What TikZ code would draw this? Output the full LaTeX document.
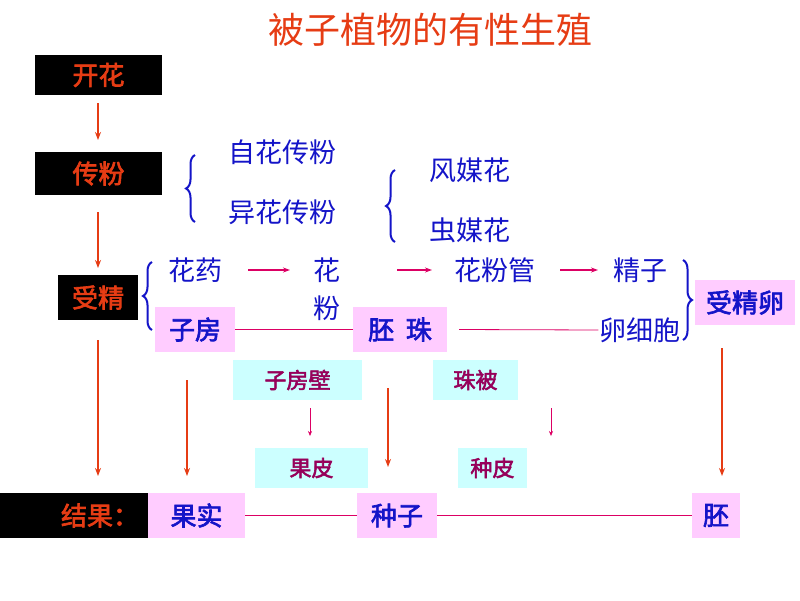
\documentclass[tikz,border=0pt]{standalone}
\usepackage{fontspec}
\setmainfont{Noto Sans CJK SC}
\newfontfamily\cjkb{Noto Sans CJK SC}[FakeBold=2.5]
\usetikzlibrary{decorations.pathreplacing,arrows.meta}
\definecolor{tblue}{RGB}{20,20,200}
\definecolor{tred}{RGB}{230,60,20}
\definecolor{tmag}{RGB}{220,0,100}
\definecolor{tpink}{RGB}{255,204,255}
\definecolor{tcyan}{RGB}{204,255,255}
\definecolor{tpurp}{RGB}{150,0,90}
\begin{document}
\begin{tikzpicture}[x=1pt,y=-1pt,
 blk/.style={fill=black,text=tred,font=\cjkb\fontsize{26}{28}\selectfont,inner sep=0},
 pk/.style={fill=tpink,text=tblue,font=\cjkb\fontsize{26}{28}\selectfont,inner sep=0},
 cy/.style={fill=tcyan,text=tpurp,font=\cjkb\fontsize{22}{24}\selectfont,inner sep=0},
 bt/.style={text=tblue,font=\fontsize{27}{29}\selectfont,inner sep=1},
 rarr/.style={draw=tred,line width=1.5pt,-{Stealth[length=8pt,width=6pt]}},
 marr/.style={draw=tmag,line width=1.2pt,-{Stealth[length=7pt,width=5pt]}},
 sarr/.style={draw=tmag,line width=0.6pt,-{Stealth[length=5pt,width=4pt]}},
 ln/.style={draw=tmag,line width=0.8pt},
 br/.style={draw=tblue,line width=2pt,decorate,decoration={brace,amplitude=9pt}}]
\useasboundingbox (0,0) rectangle (800,600);
\node[text=tred,font=\fontsize{36}{38}\selectfont] (title) at (430,30) {被子植物的有性生殖};
% black boxes
\node[blk,minimum width=127,minimum height=40] (kh) at (98.5,75) {开花};
\node[blk,minimum width=127,minimum height=43] (cf) at (98.5,173.5) {传粉};
\node[blk,minimum width=80,minimum height=45] (sj) at (98,297.5) {受精};
\node[blk,minimum width=148,minimum height=45,text width=130,align=right] (jg) at (74,515.5) {结果：};
\coordinate (a1) at (98,140); \coordinate (a2) at (98,212); \coordinate (a3) at (98,268);
\coordinate (a4) at (98,340); \coordinate (a5) at (98,476); \coordinate (a0) at (98,103);
\draw[rarr] (a0) -- (a1);
\draw[rarr] (a2) -- (a3);
\draw[rarr] (a4) -- (a5);
% pollination
\draw[br] (195,222) -- (195,155);
\node[bt] (zh) at (282,152) {自花传粉};
\node[bt] (yh) at (282,212) {异花传粉};
\draw[br] (395,242) -- (395,170);
\node[bt] (fm) at (470,170) {风媒花};
\node[bt] (cm) at (470,230) {虫媒花};
% fertilization
\draw[br] (152,330) -- (152,262);
\node[bt] (hy) at (195,270) {花药};
\node[bt] (h1) at (327,270) {花};
\node[bt] (h2) at (327,308) {粉};
\node[bt] (hfg) at (495,270) {花粉管};
\node[bt] (jz) at (640,270) {精子};
\node[bt] (lxb) at (640,330) {卵细胞};
\draw[marr] (248,270) -- (290,270);
\draw[marr] (397,270) -- (432,270);
\draw[marr] (560,270) -- (598,270);
\draw[br] (683,260) -- (683,340);
\node[pk,minimum width=80,minimum height=45] (zf) at (195,329.5) {子房};
\node[pk,minimum width=94,minimum height=45] (pz) at (400,329.5) {胚\ \ 珠};
\node[pk,minimum width=100,minimum height=45] (sjl) at (745,302.5) {受精卵};
\draw[ln] (zf.east) -- (pz.west);
\draw[ln] (pz.east) ++(12,0) -- (lxb.west);
% development
\node[cy,minimum width=129,minimum height=40] (zfb) at (297.5,380) {子房壁};
\node[cy,minimum width=85,minimum height=40] (zb) at (475.5,380) {珠被};
\node[cy,minimum width=113,minimum height=40] (gp) at (311.5,468) {果皮};
\node[cy,minimum width=69,minimum height=40] (zp) at (492.5,468) {种皮};
\draw[sarr] (310,408) -- (310,436);
\draw[sarr] (551,408) -- (551,436);
\coordinate (b1) at (187,380); \coordinate (b2) at (187,476);
\coordinate (c1) at (388,388); \coordinate (c2) at (388,467);
\coordinate (d1) at (722,348); \coordinate (d2) at (722,476);
\draw[rarr] (b1) -- (b2);
\draw[rarr] (c1) -- (c2);
\draw[rarr] (d1) -- (d2);
% results
\node[pk,minimum width=97,minimum height=45] (gs) at (196.5,515.5) {果实};
\node[pk,minimum width=80,minimum height=45] (zz) at (397,515.5) {种子};
\node[pk,minimum width=48,minimum height=45] (p) at (716,515.5) {胚};
\draw[ln] (gs.east) -- (zz.west);
\draw[ln] (zz.east) -- (p.west);
\end{tikzpicture}
\end{document}
